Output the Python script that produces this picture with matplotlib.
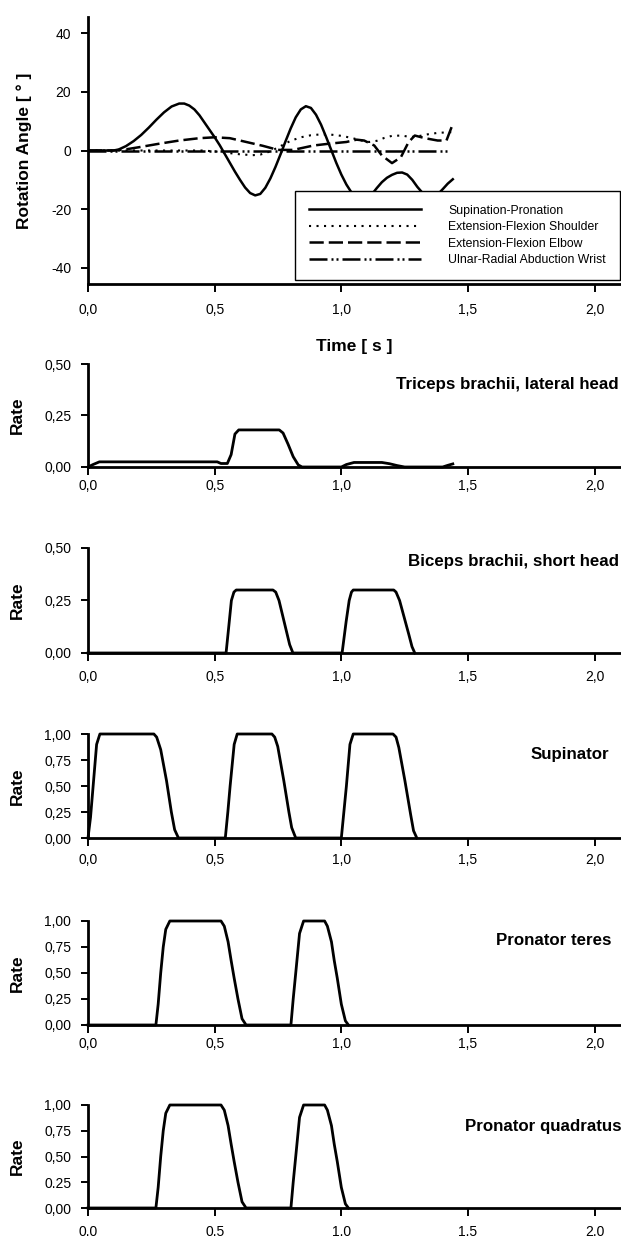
"""
Arm rotation angles and muscle activation rates over time
"""

import matplotlib
matplotlib.use("Agg")
import matplotlib.pyplot as plt

plt.rcParams['font.family'] = ['Liberation Sans', 'DejaVu Sans']

# Rotation angles [deg]
angle_time = [0.00, 0.05, 0.10, 0.12, 0.15, 0.18, 0.21, 0.24, 0.27, 0.30, 0.33, 0.36,
              0.38, 0.40, 0.42, 0.44, 0.46, 0.48, 0.50, 0.52, 0.54, 0.56, 0.58, 0.60,
              0.62, 0.64, 0.66, 0.68, 0.70, 0.72, 0.74, 0.76, 0.78, 0.80, 0.82, 0.84,
              0.86, 0.88, 0.90, 0.92, 0.94, 0.96, 0.98, 1.00, 1.02, 1.04, 1.06, 1.08,
              1.10, 1.12, 1.14, 1.16, 1.18, 1.20, 1.22, 1.24, 1.26, 1.28, 1.30, 1.32,
              1.34, 1.36, 1.38, 1.40, 1.42, 1.44]
supination_pronation = [0, 0, 0, 0.3, 1.5, 3.2, 5.3, 7.8, 10.5, 13.0, 15.0, 16.0,
                        16.0, 15.3, 14.0, 12.0, 9.5, 7.0, 4.5, 1.8, -1.2, -4.2, -7.2, -10.0,
                        -12.6, -14.5, -15.3, -14.8, -12.7, -9.5, -5.6, -1.3, 3.2, 7.5, 11.3, 14.0,
                        15.1, 14.5, 12.2, 8.8, 4.6, 0.2, -4.2, -8.2, -11.6, -14.3, -16.2, -17.0,
                        -16.6, -15.0, -12.8, -10.8, -9.3, -8.3, -7.6, -7.5, -8.2, -10.0, -12.4, -14.4,
                        -15.6, -15.8, -15.0, -13.2, -11.3, -9.8]

shoulder_time = [0.00, 0.40, 0.45, 0.50, 0.55, 0.60, 0.65, 0.68, 0.72, 0.76, 0.80, 0.84,
                 0.88, 0.92, 0.96, 1.00, 1.04, 1.08, 1.11, 1.14, 1.17, 1.20, 1.24, 1.27,
                 1.30, 1.34, 1.38, 1.42, 1.44]
shoulder_angle = [0, 0, 0, -0.3, -0.8, -1.3, -1.6, -1.4, -0.3, 1.5, 3.3, 4.5,
                  5.2, 5.5, 5.4, 5.0, 4.3, 3.4, 2.9, 3.3, 4.3, 5.0, 5.1, 4.6,
                  4.8, 5.5, 6.0, 6.2, 6.3]

elbow_time = [0.00, 0.10, 0.15, 0.20, 0.28, 0.36, 0.44, 0.50, 0.56, 0.62, 0.69, 0.75,
              0.81, 0.89, 0.95, 1.02, 1.06, 1.09, 1.13, 1.16, 1.20, 1.235, 1.265, 1.29,
              1.33, 1.38, 1.415, 1.43, 1.44]
elbow_angle = [0, 0, 0.4, 1.1, 2.3, 3.4, 4.2, 4.5, 4.2, 3.0, 1.6, 0.2,
               0.2, 1.7, 2.3, 2.9, 3.7, 3.4, 1.7, -1.7, -4.3, -2.3, 2.8, 5.1,
               4.2, 3.4, 3.4, 6.8, 9.0]

wrist_time = [0.00, 0.50, 1.00, 1.42]
wrist_angle = [0, 0, 0, 0]

# Muscle activation rates
triceps_time = [0.0, 0.02, 0.045, 0.51, 0.525, 0.55, 0.565, 0.58, 0.595, 0.755, 0.77, 0.79,
                0.81, 0.83, 0.845, 1.0, 1.02, 1.05, 1.16, 1.19, 1.22, 1.25, 1.40, 1.42, 1.44]
triceps_rate = [0.0, 0.012, 0.025, 0.025, 0.017, 0.017, 0.06, 0.16, 0.18, 0.18, 0.165, 0.11,
                0.05, 0.01, 0.0, 0.0, 0.012, 0.022, 0.022, 0.016, 0.007, 0.0, 0.0, 0.008, 0.015]

biceps_time = [0.0, 0.545, 0.556, 0.566, 0.576, 0.585, 0.73, 0.741, 0.754, 0.768, 0.784, 0.796,
               0.809, 1.003, 1.019, 1.031, 1.04, 1.047, 1.207, 1.216, 1.23, 1.248, 1.266, 1.279, 1.29]
biceps_rate = [0.0, 0.0, 0.13, 0.25, 0.29, 0.30, 0.30, 0.29, 0.25, 0.18, 0.10, 0.04,
               0.0, 0.0, 0.15, 0.25, 0.29, 0.30, 0.30, 0.29, 0.25, 0.17, 0.09, 0.03, 0.0]

supinator_time = [0.0, 0.01, 0.022, 0.034, 0.047, 0.26, 0.271, 0.287, 0.31, 0.329, 0.342, 0.357,
                  0.542, 0.552, 0.561, 0.577, 0.589, 0.726, 0.737, 0.749, 0.773, 0.793, 0.804, 0.82,
                  1.0, 1.01, 1.02, 1.034, 1.047, 1.204, 1.216, 1.227, 1.251, 1.274, 1.285, 1.298]
supinator_rate = [0.0, 0.2, 0.55, 0.9, 1.0, 1.0, 0.97, 0.85, 0.55, 0.25, 0.08, 0.0,
                  0.0, 0.25, 0.5, 0.9, 1.0, 1.0, 0.97, 0.88, 0.55, 0.25, 0.1, 0.0,
                  0.0, 0.25, 0.5, 0.9, 1.0, 1.0, 0.97, 0.87, 0.55, 0.22, 0.07, 0.0]

teres_time = [0.0, 0.268, 0.277, 0.287, 0.297, 0.307, 0.323, 0.525, 0.538, 0.553, 0.565, 0.577,
              0.592, 0.608, 0.624, 0.801, 0.81, 0.82, 0.835, 0.851, 0.934, 0.945, 0.961, 0.972,
              0.984, 1.0, 1.016, 1.028]
teres_rate = [0.0, 0.0, 0.2, 0.5, 0.75, 0.92, 1.0, 1.0, 0.95, 0.8, 0.62, 0.45,
              0.25, 0.06, 0.0, 0.0, 0.25, 0.5, 0.88, 1.0, 1.0, 0.95, 0.8, 0.62,
              0.45, 0.2, 0.04, 0.0]

quadratus_time = [0.0, 0.268, 0.277, 0.287, 0.297, 0.307, 0.323, 0.525, 0.538, 0.553, 0.565, 0.577,
                  0.592, 0.608, 0.624, 0.801, 0.81, 0.82, 0.835, 0.851, 0.934, 0.945, 0.961, 0.972,
                  0.984, 1.0, 1.016, 1.028]
quadratus_rate = [0.0, 0.0, 0.2, 0.5, 0.75, 0.92, 1.0, 1.0, 0.95, 0.8, 0.62, 0.45,
                  0.25, 0.06, 0.0, 0.0, 0.25, 0.5, 0.88, 1.0, 1.0, 0.95, 0.8, 0.62,
                  0.45, 0.2, 0.04, 0.0]

muscle_names = ["Triceps brachii, lateral head", "Biceps brachii, short head",
                "Supinator", "Pronator teres", "Pronator quadratus"]

# Ticks
time_ticks = [0.0, 0.5, 1.0, 1.5, 2.0]
time_labels_comma = ["0,0", "0,5", "1,0", "1,5", "2,0"]
time_labels_dot = ["0.0", "0.5", "1.0", "1.5", "2.0"]
angle_ticks = [-40, -20, 0, 20, 40]
angle_labels = ["-40", "-20", "0", "20", "40"]
half_ticks = [0.0, 0.25, 0.5]
half_labels = ["0,00", "0,25", "0,50"]
full_ticks = [0.0, 0.25, 0.5, 0.75, 1.0]
full_labels = ["0,00", "0,25", "0,50", "0,75", "1,00"]
full_labels_last = ["0,00", "0.25", "0,50", "0,75", "1,00"]

# Layout (pixels)
W, H = 621, 1239
fig = plt.figure(figsize=(W / 100, H / 100), dpi=100)


def add_panel(top, bottom):
    return fig.add_axes([88 / W, 1 - bottom / H, 532 / W, (bottom - top) / H])


def style(ax, xpad):
    for s in ['top', 'right']:
        ax.spines[s].set_visible(False)
    for s in ['left', 'bottom']:
        ax.spines[s].set_linewidth(2.0)
    ax.tick_params(axis='both', direction='out', width=1.4, labelsize=10)
    ax.tick_params(axis='y', length=5, pad=7)
    ax.tick_params(axis='x', length=6, pad=xpad)
    ax.set_xlim(0, 2.1)
    ax.set_xticks(time_ticks)


# Rotation angle panel
ax1 = add_panel(17, 284)
style(ax1, 8)
ax1.plot(angle_time, supination_pronation, color='black', lw=1.8, label='Supination-Pronation')
ax1.plot(shoulder_time, shoulder_angle, color='black', lw=1.5, linestyle=(0, (1, 2.6)),
         label='Extension-Flexion Shoulder')
ax1.plot(elbow_time, elbow_angle, color='black', lw=1.8, linestyle=(0, (5.7, 2.0)),
         label='Extension-Flexion Elbow')
ax1.plot(wrist_time, wrist_angle, color='black', lw=1.8,
         linestyle=(0, (7.2, 1.6, 0.8, 1.2, 0.8, 1.6)), label='Ulnar-Radial Abduction Wrist')
ax1.set_ylim(-45.5, 45.5)
ax1.set_yticks(angle_ticks)
ax1.set_yticklabels(angle_labels)
ax1.set_xticklabels(time_labels_comma)
ax1.set_ylabel('Rotation Angle [ ° ]', fontsize=12.5, fontweight='bold')
ax1.yaxis.set_label_coords(-0.105, 0.5)
ax1.set_xlabel('Time [ s ]', fontsize=12.5, fontweight='bold')
ax1.xaxis.set_label_coords(0.5, -0.205)
leg = ax1.legend(loc='lower right', bbox_to_anchor=(1.0, 0.015), fontsize=8.8,
                 handlelength=9.2, handletextpad=2.2, borderpad=1.15, labelspacing=0.36,
                 borderaxespad=0, fancybox=False, framealpha=1, edgecolor='black')
leg.get_frame().set_linewidth(1.0)

# Muscle activation panels: (top px, bottom px, time, rate, yticks, ylabels, ymax,
# label x [s], label y [rate], x tick pad)
panels = [
    (364, 467, triceps_time, triceps_rate, half_ticks, half_labels, 0.5, 1.215, 0.40, 3),
    (548, 653, biceps_time, biceps_rate, half_ticks, half_labels, 0.5, 1.262, 0.435, 6),
    (734, 838, supinator_time, supinator_rate, full_ticks, full_labels, 1.0, 1.745, 0.80, 5),
    (921, 1025, teres_time, teres_rate, full_ticks, full_labels, 1.0, 1.611, 0.815, 3),
    (1105, 1208, quadratus_time, quadratus_rate, full_ticks, full_labels_last, 1.0, 1.488, 0.79, 6),
]

for i, (top, bottom, t, r, yt, yl, ymax, tx, ty, xpad) in enumerate(panels):
    ax = add_panel(top, bottom)
    style(ax, xpad)
    ax.plot(t, r, color='black', lw=2.0, clip_on=False)
    ax.set_ylim(0, ymax)
    ax.set_yticks(yt)
    ax.set_yticklabels(yl)
    if i == len(panels) - 1:
        ax.set_xticklabels(time_labels_dot)
    else:
        ax.set_xticklabels(time_labels_comma)
    ax.set_ylabel('Rate', fontsize=12.5, fontweight='bold')
    ax.yaxis.set_label_coords(-0.118, 0.5)
    ax.text(tx, ty, muscle_names[i], fontsize=12.2, fontweight='bold',
            ha='left', va='center', clip_on=False)

fig.savefig('out.png', dpi=100)
